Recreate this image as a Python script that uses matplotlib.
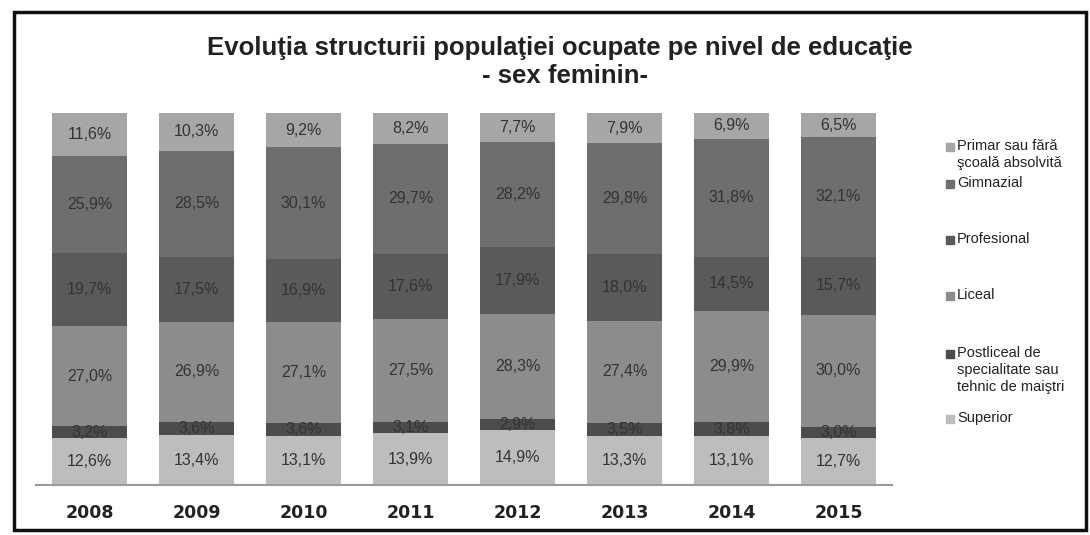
import matplotlib.pyplot as plt
from matplotlib.patches import Rectangle
import numpy as np

years = ['2008', '2009', '2010', '2011', '2012', '2013', '2014', '2015']

# stacked bottom -> top
superior = [12.6, 13.4, 13.1, 13.9, 14.9, 13.3, 13.1, 12.7]
postliceal = [3.2, 3.6, 3.6, 3.1, 2.9, 3.5, 3.8, 3.0]
liceal = [27.0, 26.9, 27.1, 27.5, 28.3, 27.4, 29.9, 30.0]
profesional = [19.7, 17.5, 16.9, 17.6, 17.9, 18.0, 14.5, 15.7]
gimnazial = [25.9, 28.5, 30.1, 29.7, 28.2, 29.8, 31.8, 32.1]
primar = [11.6, 10.3, 9.2, 8.2, 7.7, 7.9, 6.9, 6.5]

series = [superior, postliceal, liceal, profesional, gimnazial, primar]
colors = ['#bdbdbd', '#4c4c4c', '#8c8c8c', '#5a5a5a', '#6e6e6e', '#a6a6a6']

# legend order as in the picture (top -> bottom)
legend_labels = ['Primar sau fără\nşcoală absolvită', 'Gimnazial', 'Profesional', 'Liceal',
                 'Postliceal de\nspecialitate sau\ntehnic de maiştri', 'Superior']
legend_colors = [colors[5], colors[4], colors[3], colors[2], colors[1], colors[0]]
legend_y = [147, 184, 240, 296, 354, 419]


def fmt(v):
    return f'{v:.1f}%'.replace('.', ',')


fig = plt.figure(figsize=(10.9, 5.35), dpi=100)
ax = fig.add_axes([36 / 1090, 50 / 535, 856 / 1090, 372 / 535])

x = np.arange(len(years))
bottom = np.zeros(len(years))
for vals, col in zip(series, colors):
    vals = np.array(vals)
    ax.bar(x, vals, width=0.7, bottom=bottom, color=col, edgecolor='none')
    for xi, b, v in zip(x, bottom, vals):
        ax.text(xi, b + v / 2, fmt(v), ha='center', va='center', fontsize=11.5,
                color='#333333', family='Liberation Sans')
    bottom += vals

ax.set_xlim(-0.5, 7.5)
ax.set_ylim(0, 100)
ax.set_xticks(x)
ax.set_xticklabels(years, fontsize=12.5, fontweight='bold', color='#222222')
ax.tick_params(axis='x', length=0, pad=14)
ax.set_yticks([])
for s in ['top', 'right', 'left']:
    ax.spines[s].set_visible(False)
ax.spines['bottom'].set_color('#9a9a9a')
ax.spines['bottom'].set_linewidth(1.5)

fig.text(560 / 1090, 1 - 48 / 535, 'Evoluţia structurii populaţiei ocupate pe nivel de educaţie',
         ha='center', va='center', fontsize=18.5, fontweight='bold', family='Liberation Sans',
         color='#222222')
fig.text(565 / 1090, 1 - 76 / 535, '- sex feminin-', ha='center', va='center', fontsize=18.5,
         fontweight='bold', family='Liberation Sans', color='#222222')

# legend drawn by hand, spacing in the source is uneven
for lab, col, y in zip(legend_labels, legend_colors, legend_y):
    fig.patches.append(Rectangle((946 / 1090, 1 - (y + 4) / 535), 8 / 1090, 8 / 535,
                                 transform=fig.transFigure, color=col))
    fig.text(957 / 1090, 1 - (y - 8) / 535, lab, ha='left', va='top', fontsize=10.5,
             family='Liberation Sans', color='#222222', linespacing=1.25)

# outer frame of the scanned chart
fig.patches.append(Rectangle((14 / 1090, 1 - 530 / 535), 1072 / 1090, 518 / 535,
                             transform=fig.transFigure, fill=False, edgecolor='#111111',
                             linewidth=2.5))

fig.savefig('out.png', dpi=100)
